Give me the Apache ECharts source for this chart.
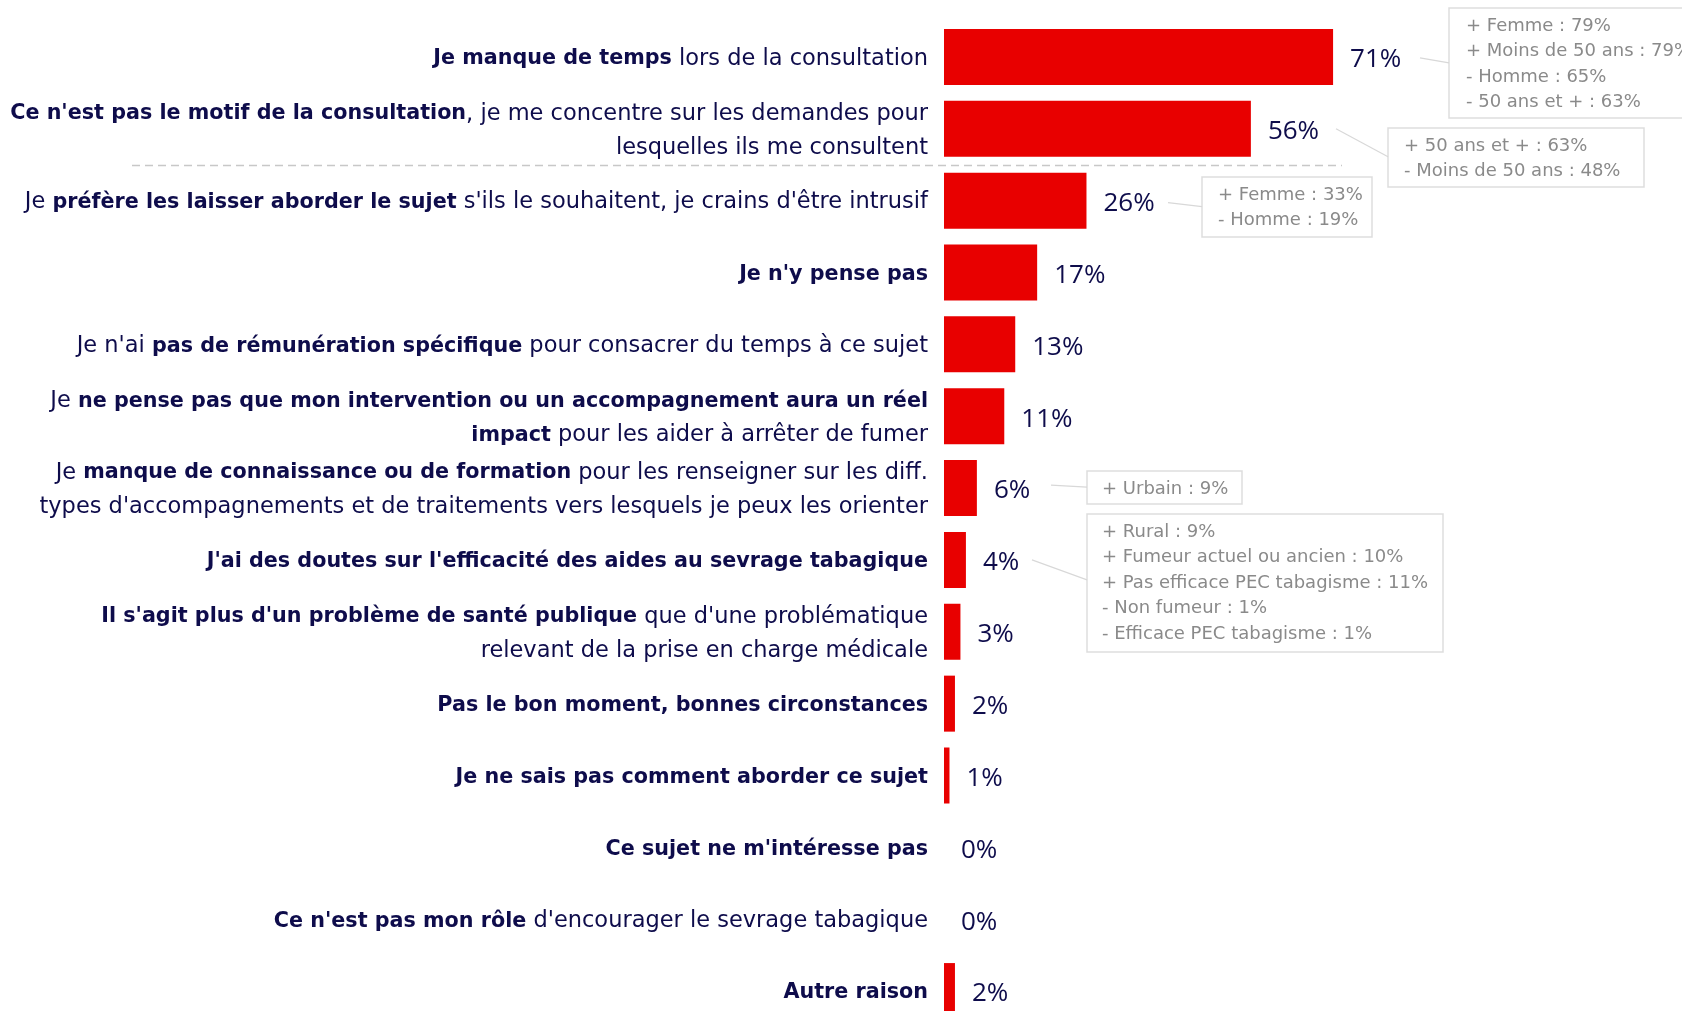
<!DOCTYPE html>
<html>
<head>
<meta charset="utf-8">
<script src="https://cdn.jsdelivr.net/npm/echarts@6/dist/echarts.min.js"></script>
<style>
html,body{margin:0;padding:0;background:#fff;overflow:hidden;}
#c{width:1682px;height:1040px;}
</style>
</head>
<body>
<div id="c"></div>
<script>
// Categories: **bold** segments, \n line breaks
const categories = [
  "**Je manque de temps** lors de la consultation",
  "**Ce n'est pas le motif de la consultation**, je me concentre sur les demandes pour\nlesquelles ils me consultent",
  "Je **préfère les laisser aborder le sujet** s'ils le souhaitent, je crains d'être intrusif",
  "**Je n'y pense pas**",
  "Je n'ai **pas de rémunération spécifique** pour consacrer du temps à ce sujet",
  "Je **ne pense pas que mon intervention ou un accompagnement aura un réel\nimpact** pour les aider à arrêter de fumer",
  "Je **manque de connaissance ou de formation** pour les renseigner sur les diff.\ntypes d'accompagnements et de traitements vers lesquels je peux les orienter",
  "**J'ai des doutes sur l'efficacité des aides au sevrage tabagique**",
  "**Il s'agit plus d'un problème de santé publique** que d'une problématique\nrelevant de la prise en charge médicale",
  "**Pas le bon moment, bonnes circonstances**",
  "**Je ne sais pas comment aborder ce sujet**",
  "**Ce sujet ne m'intéresse pas**",
  "**Ce n'est pas mon rôle** d'encourager le sevrage tabagique",
  "**Autre raison**"
];
const values = [71, 56, 26, 17, 13, 11, 6, 4, 3, 2, 1, 0, 0, 2];

// Annotation boxes (sub-group differences)
const note1 = ["+ Femme : 79%", "+ Moins de 50 ans : 79%", "- Homme : 65%", "- 50 ans et + : 63%"];
const note2 = ["+ 50 ans et + : 63%", "- Moins de 50 ans : 48%"];
const note3 = ["+ Femme : 33%", "- Homme : 19%"];
const note4 = ["+ Urbain : 9%"];
const note5 = ["+ Rural : 9%", "+ Fumeur actuel ou ancien : 10%", "+ Pas efficace PEC tabagisme : 11%", "- Non fumeur : 1%", "- Efficace PEC tabagisme : 1%"];

const NAVY = '#0e0c4b';
const RED = '#e80000';
const FONT = 'DejaVu Sans';
const VFONT = 'Open Sans';

function toRich(s) {
  const parts = s.split('**');
  let out = '';
  parts.forEach((p, i) => {
    if (!p) return;
    const style = i % 2 === 1 ? 'b' : 'r';
    const lines = p.split('\n');
    out += lines.map(l => l ? '{' + style + '|' + l + '}' : '').join('\n');
  });
  return out;
}

const chart = echarts.init(document.getElementById('c'), null, {renderer: 'canvas'});
chart.setOption({
  animation: false,
  textStyle: {fontFamily: FONT},
  grid: {left: 944, right: 190, top: 21, bottom: 13, containLabel: false, outerBoundsMode: 'none'},
  xAxis: {type: 'value', min: 0, max: 100, show: false},
  yAxis: {
    type: 'category', data: categories, inverse: true,
    axisLine: {show: false}, axisTick: {show: false}, splitLine: {show: false},
    axisLabel: {
      margin: 16, align: 'right', padding: [4, 0, 0, 0],
      formatter: v => toRich(v),
      rich: {
        b: {fontFamily: FONT, fontSize: 20.7, fontWeight: 'bold', color: NAVY, lineHeight: 34},
        r: {fontFamily: FONT, fontSize: 22.5, fontWeight: 'normal', color: NAVY, lineHeight: 34}
      }
    }
  },
  series: [{
    type: 'bar', data: values, barWidth: 56,
    itemStyle: {color: RED},
    label: {show: true, position: 'right', distance: 17, offset: [0, 3], formatter: '{c}%', fontFamily: VFONT, fontSize: 26, color: NAVY}
  }]
});

// separator + annotations
const yc = i => chart.convertToPixel({yAxisIndex: 0}, categories[i]);
const sepY = Math.round((yc(1) + yc(2)) / 2) + 0.5;
const G = [];
G.push({type: 'line', silent: true, shape: {x1: 132, y1: sepY, x2: 1342, y2: sepY},
  style: {stroke: '#c8c8c8', lineWidth: 1.5, lineDash: [8, 5]}});

function box(lines, x, y, w, h, pad, from, to) {
  G.push({type: 'rect', shape: {x: x, y: y, width: w, height: h},
    style: {fill: '#fff', stroke: '#dedede', lineWidth: 1.5}});
  lines.forEach((t, i) => {
    G.push({type: 'text', x: x + pad, y: y + 18 + i * 25.6,
      style: {text: t, fontFamily: FONT, fontSize: 18, fill: '#8a8a8a', verticalAlign: 'middle', align: 'left'}});
  });
  G.push({type: 'line', shape: {x1: from[0], y1: from[1], x2: to[0], y2: to[1]},
    style: {stroke: '#d8d8d8', lineWidth: 1.2}});
}
box(note1, 1449, 8, 260, 110, 17, [1420, yc(0) + 1], [1449, yc(0) + 6]);
box(note2, 1388, 128, 256, 59, 16, [1336, yc(1)], [1388, yc(1) + 28]);
box(note3, 1202, 177, 170, 60, 16, [1168, yc(2) + 2], [1202, yc(2) + 6]);
box(note4, 1087, 471, 155, 33, 15, [1051, yc(6) - 3], [1087, yc(6) - 1]);
box(note5, 1087, 514, 356, 138, 15, [1032, yc(7)], [1087, yc(7) + 20]);
chart.setOption({graphic: G});
</script>
</body>
</html>
